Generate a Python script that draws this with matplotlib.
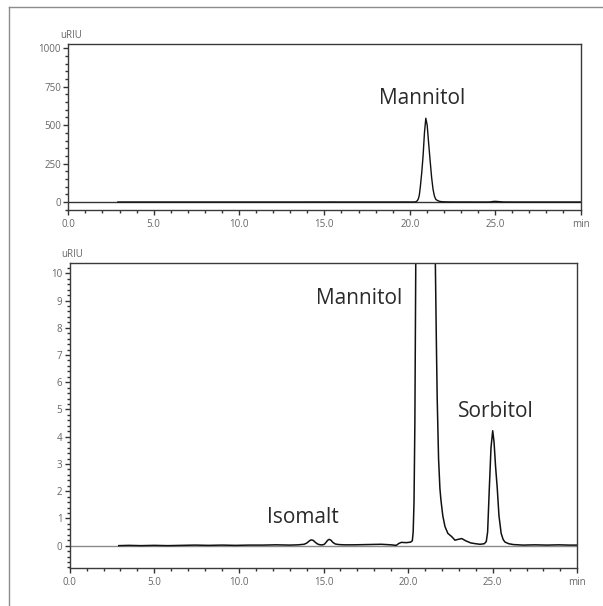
import matplotlib
matplotlib.use("Agg")
import matplotlib.pyplot as plt
from matplotlib.ticker import MultipleLocator, FixedLocator
from matplotlib.lines import Line2D

plt.rcParams['font.family'] = ['Open Sans', 'DejaVu Sans']

# ---- data (time in min, signal in uRIU) ----
time_min = [
    2.90, 3.50, 4.20, 5.00, 5.80, 6.60, 7.40, 8.20, 9.00, 9.80, 10.60, 11.40, 12.20,
    13.00, 13.50, 13.85, 14.00, 14.12, 14.22, 14.30, 14.40, 14.52, 14.65, 14.80,
    14.95, 15.05, 15.15, 15.25, 15.34, 15.44, 15.55, 15.70, 15.90, 16.20, 16.80,
    17.60, 18.40, 19.00, 19.30, 19.45, 19.60, 19.90,
    20.15, 20.25, 20.30, 20.35, 20.40, 20.45, 20.50, 20.56, 20.62, 20.70, 20.78,
    20.86, 20.94, 21.02, 21.10, 21.19, 21.28, 21.36, 21.44, 21.52, 21.61, 21.67,
    21.72, 21.80, 21.88, 21.94, 22.05, 22.18, 22.35, 22.58, 22.77, 22.95, 23.17,
    23.40, 23.70, 24.00, 24.25, 24.50, 24.62, 24.70, 24.80, 24.90, 25.00, 25.08,
    25.17, 25.27, 25.37, 25.50, 25.62, 25.73, 25.95, 26.22, 26.80, 27.50, 28.20,
    28.90, 29.50, 30.00,
]
signal_uriu = [
    0.00, 0.01, 0.00, 0.01, 0.00, 0.01, 0.02, 0.01, 0.02, 0.01, 0.02, 0.02, 0.03,
    0.02, 0.03, 0.05, 0.09, 0.15, 0.20, 0.21, 0.19, 0.12, 0.06, 0.03,
    0.03, 0.05, 0.12, 0.20, 0.23, 0.20, 0.12, 0.06, 0.04, 0.03, 0.03,
    0.04, 0.05, 0.03, 0.01, 0.08, 0.12, 0.11,
    0.13, 0.18, 0.50, 1.60, 4.50, 10.0, 20.0, 45.0, 100.0, 190.0, 300.0,
    450.0, 545.0, 500.0, 390.0, 272.0, 160.0, 85.0, 40.0, 18.0, 10.4, 7.5,
    5.4, 3.2, 2.1, 1.68, 1.10, 0.70, 0.45, 0.33, 0.20, 0.23, 0.26,
    0.18, 0.10, 0.07, 0.05, 0.07, 0.15, 0.50, 2.10, 3.60, 4.22, 3.80,
    2.90, 2.10, 1.10, 0.45, 0.22, 0.13, 0.07, 0.04, 0.02, 0.03, 0.02,
    0.03, 0.02, 0.02,
]

x_ticks = [0, 5, 10, 15, 20, 25, 30]
x_tick_labels = ['0.0', '5.0', '10.0', '15.0', '20.0', '25.0', 'min']
top_y_ticks = [0, 250, 500, 750, 1000]
bottom_y_ticks = list(range(0, 11))

top_labels = [('Mannitol', 20.70, 637)]
bottom_labels = [('Mannitol', 17.10, 8.87), ('Sorbitol', 25.17, 4.74), ('Isomalt', 13.79, 0.845)]

W, H = 603, 606
fig = plt.figure(figsize=(W / 100, H / 100), dpi=100)

def px_axes(l, t, r, b):
    return fig.add_axes([l / W, 1 - b / H, (r - l) / W, (b - t) / H])

ax1 = px_axes(68.3, 44, 580.5, 210)
ax2 = px_axes(69.7, 263, 577.3, 567.7)

tick_col = '#333333'
lab_col = '#666666'

def style(ax, ylim, yticks, yminor):
    ax.set_xlim(0, 30)
    ax.set_ylim(*ylim)
    ax.xaxis.set_major_locator(FixedLocator(x_ticks))
    ax.set_xticklabels(x_tick_labels)
    ax.xaxis.set_minor_locator(MultipleLocator(1))
    ax.yaxis.set_major_locator(FixedLocator(yticks))
    ax.yaxis.set_minor_locator(MultipleLocator(yminor))
    ax.tick_params(axis='both', which='major', length=3.8, width=1.0, color=tick_col,
                   labelsize=7, labelcolor=lab_col, pad=1.5)
    ax.tick_params(axis='both', which='minor', length=2.3, width=1.0, color=tick_col)
    ax.tick_params(axis='x', which='major', pad=3)
    for s in ax.spines.values():
        s.set_color('#3a3a3a')
        s.set_linewidth(1.0)
    ax.annotate('uRIU', xy=(0, 1), xycoords='axes fraction', xytext=(2, 6),
                textcoords='offset points', ha='center', va='center',
                fontsize=7, color=lab_col)

style(ax1, (-52, 1028), top_y_ticks, 50)
style(ax2, (-0.81, 10.38), bottom_y_ticks, 0.2)

ax1.axhline(0, color='#333333', lw=1.0, zorder=1)
ax1.plot(time_min, signal_uriu, color='#111111', lw=1.0, zorder=2)
ax2.axhline(0, color='#8a8a8a', lw=1.0, zorder=1)
ax2.plot(time_min, signal_uriu, color='#111111', lw=1.1, zorder=2)

for txt, tx, ty in top_labels:
    ax1.text(tx, ty, txt, ha='center', va='baseline', fontsize=15,
             color='#2a2a2a', fontweight='normal')
for txt, tx, ty in bottom_labels:
    ax2.text(tx, ty, txt, ha='center', va='baseline', fontsize=15,
             color='#2a2a2a', fontweight='normal')

# outer frame
fig.add_artist(Line2D([9 / W, 9 / W], [1 - 7 / H, -0.01], transform=fig.transFigure,
                      color='#8c8c8c', lw=1.0))
fig.add_artist(Line2D([9 / W, 1.01], [1 - 7 / H, 1 - 7 / H], transform=fig.transFigure,
                      color='#8c8c8c', lw=1.0))

fig.savefig('out.png', dpi=100, facecolor='white')
